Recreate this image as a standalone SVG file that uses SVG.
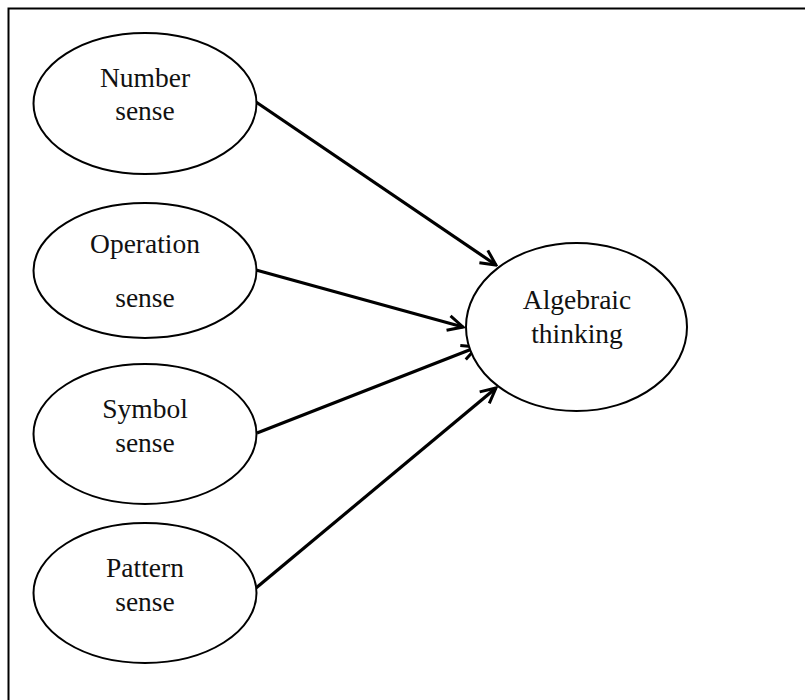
<svg xmlns="http://www.w3.org/2000/svg" width="805" height="700" viewBox="0 0 805 700">
<defs>
<marker id="arr" viewBox="0 0 20 20" refX="18" refY="10" markerWidth="20" markerHeight="20" markerUnits="userSpaceOnUse" orient="auto">
<path d="M3,2.5 L18,10 L3,17.5" fill="none" stroke="#000" stroke-width="3"/>
</marker>
<style>
.n{fill:#fff;stroke:#000;stroke-width:2}
.t{font-family:"Liberation Serif","Times New Roman",serif;font-size:27.5px;fill:#111;text-anchor:middle}
.c{stroke:#000;stroke-width:3.2;fill:none;marker-end:url(#arr)}
</style>
</defs>
<rect width="805" height="700" fill="#fff"/>
<path d="M8.5,700 V8.5 H805" fill="none" stroke="#000" stroke-width="2"/>
<g id="connectors">
<line class="c" x1="256" y1="102" x2="496" y2="265"/>
<line class="c" x1="256" y1="270" x2="463" y2="327"/>
<line class="c" x1="257" y1="433" x2="477" y2="347"/>
<line class="c" x1="256" y1="588" x2="496" y2="388"/>
</g>
<g id="number-sense">
<ellipse class="n" cx="145" cy="103.5" rx="111.5" ry="70.5"/>
<text class="t" x="145" y="87">Number</text>
<text class="t" x="145" y="120">sense</text>
</g>
<g id="operation-sense">
<ellipse class="n" cx="145" cy="270.5" rx="111.5" ry="67.5"/>
<text class="t" x="145" y="253">Operation</text>
<text class="t" x="145" y="307">sense</text>
</g>
<g id="symbol-sense">
<ellipse class="n" cx="145" cy="434" rx="111.5" ry="70"/>
<text class="t" x="145" y="418">Symbol</text>
<text class="t" x="145" y="452">sense</text>
</g>
<g id="pattern-sense">
<ellipse class="n" cx="145" cy="593" rx="111.5" ry="70"/>
<text class="t" x="145" y="577">Pattern</text>
<text class="t" x="145" y="611">sense</text>
</g>
<g id="algebraic-thinking">
<ellipse class="n" cx="576.5" cy="327" rx="110.5" ry="84"/>
<text class="t" x="577" y="309">Algebraic</text>
<text class="t" x="577" y="343">thinking</text>
</g>
</svg>
